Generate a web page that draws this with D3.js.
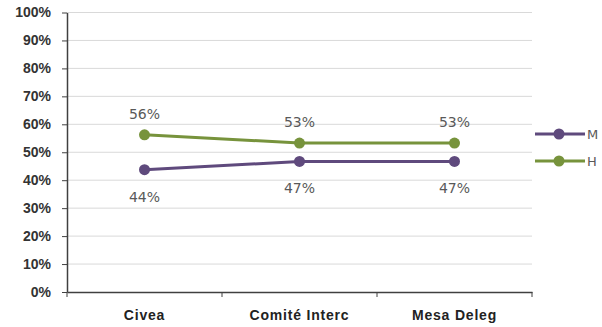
<!DOCTYPE html>
<html><head><meta charset="utf-8">
<script src="https://cdn.jsdelivr.net/npm/d3@7"></script>
<style>body{margin:0;background:#fff;}svg{display:block;}</style>
</head><body>
<svg id="c" width="602" height="327"></svg>
<script>
const categories = ["Civea", "Comité Interc", "Mesa Deleg"];
const seriesNames = ["M", "H"];
const valuesM = [0.4375, 0.467, 0.467];
const valuesH = [0.5625, 0.533, 0.533];
const labelsM = ["44%", "47%", "47%"];
const labelsH = ["56%", "53%", "53%"];
const yTicks = [0,0.1,0.2,0.3,0.4,0.5,0.6,0.7,0.8,0.9,1];

const colors = {M:"#5f4a7d", H:"#77933c"};
const svg = d3.select("#c");
const x = d3.scaleBand().domain(categories).range([67, 532]);
const y = d3.scaleLinear().domain([0,1]).range([292, 12.5]);

// gridlines
svg.append("g").selectAll("line").data(yTicks.slice(1)).join("line")
  .attr("x1",67).attr("x2",532).attr("y1",d=>y(d)).attr("y2",d=>y(d))
  .attr("stroke","#d9d9d9").attr("stroke-width",1);

// y axis
const yAxis = svg.append("g").attr("transform","translate(67,0)")
  .call(d3.axisLeft(y).tickValues(yTicks).tickFormat(d3.format(".0%")).tickSizeInner(5).tickSizeOuter(0));
yAxis.select(".domain").attr("stroke","#404040").attr("stroke-width",1.5);
yAxis.selectAll(".tick line").attr("stroke","#404040");
yAxis.selectAll("text").attr("font-family","Liberation Sans, Arial, sans-serif").attr("font-size",14)
  .attr("font-weight","bold").attr("fill","#333").attr("x",-16);

// x axis
const xAxis = svg.append("g").attr("transform","translate(0,292)")
  .call(d3.axisBottom(x).tickSize(0).tickPadding(18));
xAxis.select(".domain").attr("stroke","#404040").attr("stroke-width",1.5);
xAxis.selectAll("text").attr("font-family","Liberation Sans, Arial, sans-serif").attr("font-size",14)
  .attr("font-weight","bold").attr("fill","#222").attr("letter-spacing","0.8px");
const edges = categories.map(c=>x(c)).concat([x(categories[categories.length-1])+x.bandwidth()]);
svg.append("g").selectAll("line").data(edges).join("line")
  .attr("x1",d=>d).attr("x2",d=>d).attr("y1",292).attr("y2",297).attr("stroke","#404040");

const cx = c => x(c)+x.bandwidth()/2;
const series = [{name:"M", vals:valuesM, labels:labelsM, dy:27}, {name:"H", vals:valuesH, labels:labelsH, dy:-21}];
const line = d3.line().x(d=>cx(d.c)).y(d=>y(d.v));
series.forEach(s=>{
  const pts = categories.map((c,i)=>({c, v:s.vals[i], l:s.labels[i]}));
  svg.append("path").datum(pts).attr("d",line).attr("fill","none")
    .attr("stroke",colors[s.name]).attr("stroke-width",3);
  svg.append("g").selectAll("circle").data(pts).join("circle")
    .attr("cx",d=>cx(d.c)).attr("cy",d=>y(d.v)).attr("r",5.5).attr("fill",colors[s.name]);
  svg.append("g").selectAll("text").data(pts).join("text")
    .attr("x",d=>cx(d.c)).attr("y",d=>y(d.v)+s.dy).attr("dy","0.35em")
    .attr("text-anchor","middle").attr("font-family","DejaVu Sans, sans-serif").attr("font-size",14)
    .attr("fill","#595959").text(d=>d.l);
});

// legend
const legY = {M:134, H:161};
seriesNames.forEach(n=>{
  const g = svg.append("g");
  g.append("line").attr("x1",535).attr("x2",585).attr("y1",legY[n]).attr("y2",legY[n])
    .attr("stroke",colors[n]).attr("stroke-width",3);
  g.append("circle").attr("cx",559).attr("cy",legY[n]).attr("r",5.5).attr("fill",colors[n]);
  g.append("text").attr("x",587).attr("y",legY[n]).attr("dy","0.35em")
    .attr("font-family","DejaVu Sans, sans-serif").attr("font-size",13).attr("fill","#595959").text(n);
});
</script>
</body></html>
